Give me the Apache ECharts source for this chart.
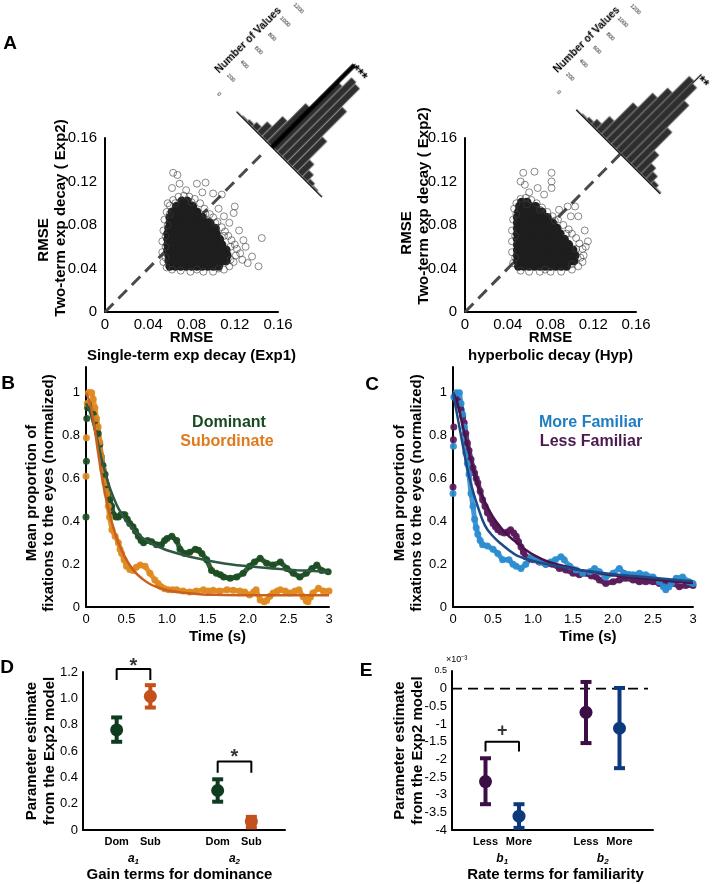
<!DOCTYPE html>
<html>
<head>
<meta charset="utf-8">
<script src="https://cdn.jsdelivr.net/npm/echarts@6.0.0/dist/echarts.min.js"></script>
<style>
html,body{margin:0;padding:0;background:#ffffff;width:716px;height:884px;overflow:hidden;}
#main{position:absolute;left:0;top:0;width:716px;height:884px;}
.hist{position:absolute;transform:rotate(45deg);transform-origin:50% 50%;}
</style>
</head>
<body>
<div id="main"></div>
<div id="histL" class="hist"></div>
<div id="histR" class="hist"></div>
<script>
const FONT = '"Liberation Sans", Arial, Helvetica, sans-serif';

// ================= Panel A : scatter clouds (RMSE Exp1 / Hyp vs Exp2) =================
// dense core of the clouds, rows: [y, [x values]]
const exp1CoreRows = [
  [0.042, [0.060,0.065,0.070,0.075,0.080,0.085,0.090,0.095,0.100,0.105]],
  [0.047, [0.059,0.064,0.069,0.074,0.079,0.084,0.089,0.094,0.099,0.104,0.109,0.112]],
  [0.052, [0.059,0.064,0.069,0.074,0.079,0.084,0.089,0.094,0.099,0.104,0.109,0.113]],
  [0.057, [0.058,0.063,0.068,0.073,0.078,0.083,0.088,0.093,0.098,0.103,0.108,0.112]],
  [0.062, [0.058,0.063,0.068,0.073,0.078,0.083,0.088,0.093,0.098,0.103,0.108]],
  [0.067, [0.058,0.063,0.068,0.073,0.078,0.083,0.088,0.093,0.098,0.103,0.106]],
  [0.072, [0.058,0.063,0.068,0.073,0.078,0.083,0.088,0.093,0.098,0.103]],
  [0.077, [0.059,0.064,0.069,0.074,0.079,0.084,0.089,0.094,0.099,0.102]],
  [0.082, [0.060,0.065,0.070,0.075,0.080,0.085,0.090,0.095,0.097]],
  [0.087, [0.060,0.065,0.070,0.075,0.080,0.085,0.090]],
  [0.092, [0.062,0.067,0.072,0.077,0.082,0.085]],
  [0.097, [0.066,0.071,0.076,0.081]],
  [0.102, [0.071,0.076]]
];
const exp1Rim = [
  [0.054,0.046],[0.053,0.055],[0.053,0.065],[0.054,0.075],[0.055,0.085],[0.057,0.092],[0.060,0.098],
  [0.063,0.103],[0.068,0.106],[0.073,0.107],[0.078,0.106],[0.083,0.104],[0.088,0.100],[0.092,0.095],
  [0.097,0.090],[0.100,0.087],[0.104,0.083],[0.108,0.078],[0.111,0.074],[0.114,0.070],[0.117,0.066],
  [0.120,0.062],[0.122,0.058],[0.121,0.052],[0.119,0.046],[0.115,0.042],[0.110,0.039],[0.100,0.037],
  [0.091,0.037],[0.079,0.037],[0.070,0.038],[0.062,0.039],[0.057,0.041],
  [0.056,0.050],[0.056,0.060],[0.056,0.070],[0.058,0.080],[0.060,0.090],[0.065,0.100],[0.080,0.101],
  [0.093,0.090],[0.102,0.082],[0.110,0.070],[0.116,0.060],[0.116,0.048],[0.105,0.040],[0.085,0.039],
  [0.063,0.128],[0.067,0.126],[0.069,0.118],[0.062,0.114],[0.085,0.118],[0.093,0.119],[0.100,0.109],
  [0.108,0.108],[0.120,0.097],[0.119,0.091],[0.145,0.068],[0.142,0.042],[0.136,0.051],[0.128,0.066],
  [0.125,0.054],[0.130,0.060],[0.124,0.075],[0.115,0.082],[0.075,0.112],[0.090,0.110],[0.058,0.100],
  [0.105,0.095],[0.110,0.088],[0.132,0.045],[0.127,0.048]
];
const hypCoreRows = [
  [0.042, [0.050,0.055,0.060,0.065,0.070,0.075,0.080,0.085,0.090,0.095]],
  [0.047, [0.049,0.054,0.059,0.064,0.069,0.074,0.079,0.084,0.089,0.094,0.099,0.102]],
  [0.052, [0.049,0.054,0.059,0.064,0.069,0.074,0.079,0.084,0.089,0.094,0.099,0.103]],
  [0.057, [0.049,0.054,0.059,0.064,0.069,0.074,0.079,0.084,0.089,0.094,0.099,0.101]],
  [0.062, [0.049,0.054,0.059,0.064,0.069,0.074,0.079,0.084,0.089,0.094,0.097]],
  [0.067, [0.049,0.054,0.059,0.064,0.069,0.074,0.079,0.084,0.089,0.093]],
  [0.072, [0.049,0.054,0.059,0.064,0.069,0.074,0.079,0.084,0.089]],
  [0.077, [0.049,0.054,0.059,0.064,0.069,0.074,0.079,0.084,0.086]],
  [0.082, [0.049,0.054,0.059,0.064,0.069,0.074,0.079,0.082]],
  [0.087, [0.049,0.054,0.059,0.064,0.069,0.074,0.077]],
  [0.092, [0.050,0.055,0.060,0.065,0.070,0.072]],
  [0.097, [0.051,0.056,0.061,0.066]],
  [0.101, [0.053,0.058]]
];
const hypRim = [
  [0.045,0.045],[0.044,0.055],[0.044,0.065],[0.044,0.075],[0.045,0.085],[0.046,0.095],[0.048,0.100],
  [0.052,0.104],[0.057,0.105],[0.062,0.103],[0.067,0.100],[0.072,0.096],[0.077,0.092],[0.082,0.088],
  [0.087,0.085],[0.092,0.080],[0.097,0.076],[0.100,0.072],[0.104,0.068],[0.107,0.063],[0.110,0.058],
  [0.111,0.052],[0.110,0.046],[0.106,0.042],[0.100,0.039],[0.090,0.037],[0.080,0.037],[0.070,0.037],
  [0.060,0.037],[0.052,0.038],
  [0.047,0.050],[0.047,0.070],[0.048,0.090],[0.058,0.099],[0.070,0.094],[0.084,0.084],[0.095,0.072],
  [0.104,0.058],[0.100,0.044],[0.075,0.039],
  [0.052,0.120],[0.0545,0.128],[0.065,0.129],[0.081,0.128],[0.081,0.120],[0.081,0.114],[0.056,0.117],
  [0.068,0.114],[0.060,0.110],[0.103,0.097],[0.099,0.088],[0.106,0.088],[0.112,0.075],[0.115,0.065],
  [0.113,0.060],[0.108,0.050],[0.096,0.097],[0.074,0.108],[0.088,0.094]
];
const diagExp1 = [[0,0],[0.148,0.148]];
const diagHyp = [[0,0],[0.149,0.149]];

// histograms of RMSE differences (rotated 45 deg)
const histBinsL = [-0.0325,-0.0275,-0.0225,-0.0175,-0.0125,-0.0075,-0.0025,0.0025,0.0075,0.0125,0.0175,0.0225,0.0275,0.0325,0.0375,0.0425,0.0475];
const histCountsL = [8,18,35,70,150,300,560,950,1080,1060,800,440,180,100,45,20,8];
const histBinsR = [-0.0425,-0.0375,-0.0325,-0.0275,-0.0225,-0.0175,-0.0125,-0.0075,-0.0025,0.0025,0.0075,0.0125,0.0175,0.0225,0.0275,0.0325,0.0375];
const histCountsR = [8,18,40,85,200,480,700,850,1100,1070,880,550,280,160,110,50,15];
const histLineL = 1190, histLineR = 1205;
const histStarsL = '***', histStarsR = '**';

// ================= Panel B : dominance time course =================
const domDots = [[0,0.42],[0.005,0.68],[0.01,0.88],[0.02,0.93],[0.03,0.95],[0.05,0.93],[0.07,0.92],[0.09,0.90],[0.11,0.87],[0.13,0.84],[0.15,0.81],[0.17,0.76],[0.19,0.70],[0.21,0.66],[0.235,0.62],[0.255,0.57],[0.275,0.53],[0.295,0.50],[0.317,0.47],[0.34,0.43],[0.37,0.42],[0.40,0.42],[0.43,0.43],[0.46,0.43],[0.48,0.43],[0.51,0.41],[0.54,0.39],[0.58,0.375],[0.61,0.355],[0.646,0.33],[0.68,0.31],[0.71,0.30],[0.76,0.31],[0.81,0.305],[0.87,0.29],[0.93,0.29],[0.97,0.31],[1.0,0.32],[1.06,0.33],[1.12,0.31],[1.16,0.27],[1.22,0.25],[1.28,0.255],[1.35,0.27],[1.39,0.265],[1.43,0.25],[1.49,0.22],[1.55,0.17],[1.61,0.157],[1.66,0.15],[1.70,0.14],[1.78,0.134],[1.86,0.14],[1.94,0.157],[2.02,0.19],[2.08,0.21],[2.15,0.227],[2.23,0.204],[2.31,0.196],[2.40,0.21],[2.48,0.18],[2.56,0.157],[2.64,0.14],[2.72,0.157],[2.79,0.18],[2.85,0.196],[2.91,0.17],[2.99,0.165]];
const subDots = [[0,0.61],[0.005,0.79],[0.015,0.95],[0.03,1.0],[0.05,1.0],[0.07,1.0],[0.09,0.97],[0.11,0.93],[0.13,0.88],[0.15,0.84],[0.17,0.77],[0.19,0.70],[0.21,0.64],[0.235,0.58],[0.26,0.53],[0.275,0.47],[0.29,0.42],[0.32,0.36],[0.36,0.33],[0.40,0.30],[0.42,0.27],[0.44,0.25],[0.47,0.22],[0.50,0.19],[0.54,0.175],[0.58,0.17],[0.62,0.185],[0.67,0.196],[0.73,0.19],[0.79,0.157],[0.85,0.126],[0.89,0.11],[0.93,0.095],[0.97,0.085],[1.02,0.08],[1.07,0.08],[1.12,0.08],[1.2,0.075],[1.28,0.07],[1.36,0.075],[1.45,0.08],[1.51,0.075],[1.57,0.078],[1.65,0.075],[1.74,0.08],[1.82,0.078],[1.9,0.075],[1.96,0.07],[2.02,0.056],[2.07,0.07],[2.1,0.08],[2.15,0.033],[2.2,0.025],[2.23,0.03],[2.27,0.05],[2.31,0.065],[2.36,0.075],[2.4,0.08],[2.46,0.075],[2.52,0.065],[2.58,0.075],[2.63,0.08],[2.68,0.048],[2.72,0.028],[2.74,0.025],[2.77,0.045],[2.8,0.065],[2.87,0.087],[2.93,0.075],[3.0,0.075]];
const domFit = [[0,0.95],[0.05,0.91],[0.1,0.84],[0.15,0.76],[0.2,0.68],[0.25,0.61],[0.3,0.55],[0.4,0.46],[0.5,0.40],[0.6,0.355],[0.7,0.322],[0.8,0.298],[0.9,0.28],[1.0,0.265],[1.2,0.243],[1.4,0.225],[1.6,0.21],[1.8,0.198],[2.0,0.19],[2.2,0.183],[2.4,0.177],[2.6,0.172],[2.8,0.168],[3.0,0.165]];
const subFit = [[0,1.0],[0.05,0.95],[0.1,0.85],[0.15,0.72],[0.2,0.6],[0.25,0.5],[0.3,0.42],[0.35,0.355],[0.4,0.3],[0.5,0.22],[0.6,0.165],[0.7,0.13],[0.8,0.105],[0.9,0.09],[1.0,0.078],[1.2,0.066],[1.4,0.06],[1.6,0.057],[2.0,0.055],[2.5,0.055],[3.0,0.055]];

// ================= Panel C : familiarity time course =================
const moreDots = [[0,0.53],[0.005,0.75],[0.01,0.98],[0.04,1.0],[0.08,1.0],[0.1,0.95],[0.12,0.9],[0.14,0.84],[0.16,0.72],[0.18,0.67],[0.2,0.62],[0.225,0.53],[0.25,0.47],[0.27,0.41],[0.29,0.37],[0.31,0.34],[0.34,0.31],[0.37,0.29],[0.43,0.285],[0.5,0.27],[0.56,0.25],[0.62,0.22],[0.7,0.22],[0.75,0.2],[0.79,0.19],[0.85,0.18],[0.91,0.2],[0.97,0.23],[1.02,0.22],[1.09,0.21],[1.16,0.2],[1.22,0.21],[1.28,0.22],[1.35,0.235],[1.39,0.22],[1.46,0.19],[1.54,0.173],[1.62,0.157],[1.71,0.165],[1.77,0.18],[1.83,0.165],[1.91,0.14],[2.0,0.157],[2.08,0.18],[2.14,0.157],[2.2,0.152],[2.25,0.15],[2.33,0.157],[2.41,0.15],[2.5,0.14],[2.58,0.118],[2.63,0.095],[2.66,0.08],[2.7,0.095],[2.73,0.11],[2.79,0.134],[2.87,0.14],[2.95,0.118],[3.0,0.11]];
const lessDots = [[0,0.56],[0.005,0.78],[0.01,0.84],[0.02,0.98],[0.04,0.97],[0.06,0.96],[0.08,0.94],[0.1,0.92],[0.12,0.89],[0.14,0.86],[0.16,0.81],[0.18,0.765],[0.2,0.73],[0.225,0.69],[0.25,0.65],[0.27,0.625],[0.29,0.6],[0.31,0.58],[0.34,0.54],[0.37,0.5],[0.4,0.47],[0.43,0.44],[0.47,0.41],[0.5,0.39],[0.53,0.375],[0.56,0.36],[0.6,0.35],[0.64,0.345],[0.68,0.35],[0.72,0.36],[0.76,0.345],[0.79,0.33],[0.82,0.305],[0.85,0.28],[0.88,0.255],[0.91,0.235],[0.96,0.225],[1.0,0.22],[1.08,0.21],[1.16,0.2],[1.24,0.2],[1.33,0.18],[1.41,0.173],[1.5,0.157],[1.58,0.15],[1.66,0.157],[1.73,0.145],[1.79,0.14],[1.83,0.126],[1.91,0.11],[2.0,0.118],[2.08,0.126],[2.16,0.134],[2.25,0.126],[2.33,0.118],[2.41,0.118],[2.5,0.118],[2.58,0.11],[2.66,0.115],[2.75,0.11],[2.83,0.095],[2.91,0.1],[3.0,0.1]];
const moreFit = [[0,1.0],[0.05,0.9],[0.1,0.8],[0.15,0.7],[0.2,0.61],[0.25,0.54],[0.3,0.48],[0.4,0.38],[0.5,0.33],[0.6,0.295],[0.7,0.265],[0.8,0.24],[1.0,0.215],[1.2,0.198],[1.4,0.185],[1.6,0.172],[1.8,0.162],[2.0,0.153],[2.2,0.146],[2.4,0.14],[2.6,0.133],[2.8,0.126],[3.0,0.12]];
const lessFit = [[0,1.0],[0.05,0.96],[0.1,0.88],[0.15,0.8],[0.2,0.72],[0.25,0.65],[0.3,0.58],[0.35,0.53],[0.4,0.49],[0.5,0.42],[0.6,0.37],[0.7,0.33],[0.8,0.3],[0.9,0.27],[1.0,0.245],[1.2,0.21],[1.4,0.19],[1.6,0.172],[1.8,0.16],[2.0,0.148],[2.2,0.14],[2.4,0.132],[2.6,0.125],[2.8,0.118],[3.0,0.112]];

// ================= Panel D : gain terms =================
const dGroups = ['a1','a2'];
const dLevels = ['Dom','Sub'];
const dDomMean = [0.76, 0.30], dDomLo = [0.67, 0.215], dDomHi = [0.855, 0.385];
const dSubMean = [1.015, 0.065], dSubLo = [0.93, 0.02], dSubHi = [1.10, 0.10];

// ================= Panel E : rate terms (x10^-3) =================
const eGroups = ['b1','b2'];
const eLevels = ['Less','More'];
const eLessMean = [-2.63, -0.67], eLessLo = [-3.27, -1.54], eLessHi = [-1.97, 0.19];
const eMoreMean = [-3.61, -1.12], eMoreLo = [-3.94, -2.25], eMoreHi = [-3.27, 0.02];

// ---------------- colours ----------------
const C_DOM = '#1c4d22', C_DOMFIT = '#2e5842', C_SUB = '#e08a1f', C_SUBFIT = '#c8601f';
const C_MORE = '#2c8dd1', C_MOREFIT = '#1d4a86', C_LESS = '#5a1b5c', C_LESSFIT = '#471447';
const C_D_DOM = '#0f3b1f', C_D_SUB = '#c4501b', C_E_LESS = '#3b0f45', C_E_MORE = '#0c3a7c';

function rowsToPoints(rows){ const out=[]; rows.forEach(r=>r[1].forEach(x=>out.push([x,r[0]]))); return out; }
// categorical position: group g, level k -> 1 + 3g + k
const catPos = (g,k) => 1 + 3*g + k;

const axLine = {show:true, onZero:false, lineStyle:{color:'#000', width:2}};
const noTick = {show:false};
const noSplit = {show:false};
const lbl = (size, margin, fmt, extra) => Object.assign({color:'#000', fontFamily:FONT, fontSize:size, margin:margin, formatter:fmt}, extra||{});
const nameStyle = (extra) => Object.assign({color:'#000', fontFamily:FONT, fontSize:15, fontWeight:'bold'}, extra||{});

const fmtA = v => v===0 ? '0' : v.toFixed(2);
const fmtT = v => (v===0||v===3) ? String(v) : v.toFixed(1);
const fmtP = v => v===0 ? '0' : (Math.abs(v-1)<1e-9 ? '1' : v.toFixed(1));
const fmtD = v => v===0 ? '0' : v.toFixed(1);
const fmtE = v => Math.abs(v-0.5)<1e-9 ? '{s|0.5}' : (Math.abs(v)<1e-9 ? '0' : String(Math.round(v*10)/10));
const catFmt = (levels) => v => { for (let g=0; g<2; g++) for (let k=0;k<2;k++) if (Math.abs(v-catPos(g,k))<1e-9) return levels[k]; return ''; };
const grpFmt = (groups) => v => { for (let g=0; g<2; g++) if (Math.abs(v-(1.5+3*g))<1e-9) return '{i|' + groups[g][0] + '}{s|' + groups[g].slice(1) + '}'; return ''; };
const grpRich = {i:{fontFamily:FONT, fontSize:12, fontWeight:'bold', fontStyle:'italic', color:'#000', lineHeight:14},
                 s:{fontFamily:FONT, fontSize:8, fontWeight:'bold', fontStyle:'italic', color:'#000', lineHeight:14, verticalAlign:'bottom'}};

function errBar(width, cap){
  return function(params, api){
    const x = api.value(0);
    const lo = api.coord([x, api.value(1)]);
    const hi = api.coord([x, api.value(2)]);
    const st = {stroke: api.visual('color'), lineWidth: width};
    return {type:'group', children:[
      {type:'line', shape:{x1:lo[0],y1:lo[1],x2:hi[0],y2:hi[1]}, style:st},
      {type:'line', shape:{x1:lo[0]-cap,y1:lo[1],x2:lo[0]+cap,y2:lo[1]}, style:st},
      {type:'line', shape:{x1:hi[0]-cap,y1:hi[1],x2:hi[0]+cap,y2:hi[1]}, style:st}
    ]};
  };
}

const grids = [
  {left:105, top:138, width:173, height:174},  // A left
  {left:465, top:138, width:171, height:174},  // A right
  {left:86,  top:367, width:243, height:240},  // B
  {left:453, top:367, width:240, height:240},  // C
  {left:83,  top:672, width:202, height:158},  // D
  {left:452, top:671, width:201, height:159}   // E
];

const xAxes = [
  {gridIndex:0, type:'value', min:0, max:0.16, interval:0.04, axisLine:axLine, axisTick:noTick, splitLine:noSplit,
   axisLabel:lbl(15,5,fmtA), name:'RMSE\nSingle-term exp decay (Exp1)', nameLocation:'middle', nameGap:17,
   nameTextStyle:nameStyle({lineHeight:18})},
  {gridIndex:1, type:'value', min:0, max:0.16, interval:0.04, axisLine:axLine, axisTick:noTick, splitLine:noSplit,
   axisLabel:lbl(15,5,fmtA), name:'RMSE\nhyperbolic decay (Hyp)', nameLocation:'middle', nameGap:17,
   nameTextStyle:nameStyle({lineHeight:18})},
  {gridIndex:2, type:'value', min:0, max:3, interval:0.5, axisLine:axLine, axisTick:noTick, splitLine:noSplit,
   axisLabel:lbl(13,6,fmtT), name:'Time (s)', nameLocation:'middle', nameGap:22,
   nameTextStyle:nameStyle({padding:[0,0,0,20]})},
  {gridIndex:3, type:'value', min:0, max:3, interval:0.5, axisLine:axLine, axisTick:noTick, splitLine:noSplit,
   axisLabel:lbl(13,6,fmtT), name:'Time (s)', nameLocation:'middle', nameGap:22,
   nameTextStyle:nameStyle({padding:[0,0,0,30]})},
  {gridIndex:4, type:'value', min:0, max:6, interval:1, position:'bottom', axisLine:axLine, axisTick:noTick, splitLine:noSplit,
   axisLabel:lbl(11,6,catFmt(dLevels),{fontWeight:'bold'}), name:'Gain terms for dominance', nameLocation:'middle', nameGap:37,
   nameTextStyle:nameStyle({padding:[0,9,0,0]})},
  {gridIndex:4, type:'value', min:0, max:6, interval:1.5, position:'bottom', axisLine:{show:false}, axisTick:noTick, splitLine:noSplit,
   axisLabel:{margin:22, formatter:grpFmt(dGroups), rich:grpRich}},
  {gridIndex:5, type:'value', min:0, max:6, interval:1, position:'bottom', axisLine:axLine, axisTick:noTick, splitLine:noSplit,
   axisLabel:lbl(11,6,catFmt(eLevels),{fontWeight:'bold'}), name:'Rate terms for familiarity', nameLocation:'middle', nameGap:37,
   nameTextStyle:nameStyle({padding:[0,0,0,6]})},
  {gridIndex:5, type:'value', min:0, max:6, interval:1.5, position:'bottom', axisLine:{show:false}, axisTick:noTick, splitLine:noSplit,
   axisLabel:{margin:22, formatter:grpFmt(eGroups), rich:grpRich}}
];

const richY = (padTop, padBottom) => ({
  r:{fontFamily:FONT, fontSize:15, fontWeight:'bold', color:'#000', lineHeight:17, padding:padTop},
  l:{fontFamily:FONT, fontSize:15, fontWeight:'bold', color:'#000', lineHeight:17, padding:padBottom}
});

const yAxes = [
  {gridIndex:0, type:'value', min:0, max:0.16, interval:0.04, axisLine:axLine, axisTick:noTick, splitLine:noSplit,
   axisLabel:lbl(15,8,fmtA), name:'{r|RMSE}\n{l|Two-term exp decay ( Exp2)}', nameLocation:'middle', nameGap:36,
   nameTextStyle:{rich:richY([0,30,0,0],[0,0,0,14])}},
  {gridIndex:1, type:'value', min:0, max:0.16, interval:0.04, axisLine:axLine, axisTick:noTick, splitLine:noSplit,
   axisLabel:lbl(15,8,fmtA), name:'{r|RMSE}\n{l|Two-term exp decay ( Exp2)}', nameLocation:'middle', nameGap:33,
   nameTextStyle:{rich:richY([0,16,0,0],[0,0,0,38])}},
  {gridIndex:2, type:'value', min:0, max:1.12, interval:0.2, axisLine:axLine, axisTick:noTick, splitLine:noSplit,
   axisLabel:lbl(13,6,fmtP,{showMaxLabel:false}), name:'{r|Mean proportion of}\n{l|fixations to the eyes (normalized)}',
   nameLocation:'middle', nameGap:29, nameTextStyle:{rich:richY([0,12,0,0],[0,12,0,0])}},
  {gridIndex:3, type:'value', min:0, max:1.12, interval:0.2, axisLine:axLine, axisTick:noTick, splitLine:noSplit,
   axisLabel:lbl(13,6,fmtP,{showMaxLabel:false}), name:'{r|Mean proportion of}\n{l|fixations to the eyes (normalized)}',
   nameLocation:'middle', nameGap:28, nameTextStyle:{rich:richY([0,12,0,0],[0,12,0,0])}},
  {gridIndex:4, type:'value', min:0, max:1.2, interval:0.2, axisLine:axLine, axisTick:noTick, splitLine:noSplit,
   axisLabel:lbl(13,5,fmtD), name:'Parameter estimate\nfrom the Exp2 model', nameLocation:'middle', nameGap:24,
   nameTextStyle:nameStyle({lineHeight:18})},
  {gridIndex:5, type:'value', min:-4, max:0.5, interval:0.5, axisLine:axLine, axisTick:noTick, splitLine:noSplit,
   axisLabel:lbl(13,5,fmtE,{rich:{s:{fontFamily:FONT, fontSize:9, color:'#000'}}}), name:'Parameter estimate\nfrom the Exp2 model',
   nameLocation:'middle', nameGap:25, nameTextStyle:nameStyle({lineHeight:18})}
];
xAxes.concat(yAxes).forEach(a => { a.nameMoveOverlap = false; });

const series = [];
// ---- A scatter panels ----
function addCloud(idx, coreRows, rim, diag){
  series.push({type:'line', xAxisIndex:idx, yAxisIndex:idx, data:diag, symbol:'none', silent:true, z:1,
               lineStyle:{color:'#4a4a4a', width:3, type:[12,7]}});
  series.push({type:'scatter', xAxisIndex:idx, yAxisIndex:idx, data:rowsToPoints(coreRows), symbol:'circle', symbolSize:9,
               itemStyle:{color:'#1e1e1e', opacity:1}, silent:true, z:3});
  series.push({type:'scatter', xAxisIndex:idx, yAxisIndex:idx, data:rim, symbol:'circle', symbolSize:7,
               itemStyle:{color:'rgba(0,0,0,0)', borderColor:'rgba(60,60,60,0.6)', borderWidth:1, opacity:1}, silent:true, z:4});
}
addCloud(0, exp1CoreRows, exp1Rim, diagExp1);
addCloud(1, hypCoreRows, hypRim, diagHyp);

// ---- B / C time courses ----
function addCourse(idx, dots, fit, dotColor, fitColor){
  series.push({type:'line', xAxisIndex:idx, yAxisIndex:idx, data:dots.filter(d=>d[0]>=0.02), symbol:'none', silent:true, z:2,
               lineStyle:{color:dotColor, width:5, opacity:0.9, cap:'round', join:'round'}});
  series.push({type:'scatter', xAxisIndex:idx, yAxisIndex:idx, data:dots, symbolSize:7, itemStyle:{color:dotColor, opacity:0.92}, silent:true, z:3});
  series.push({type:'line', xAxisIndex:idx, yAxisIndex:idx, data:fit, symbol:'none', smooth:0.4, silent:true, z:5,
               lineStyle:{color:fitColor, width:2.5}});
}
addCourse(2, domDots, domFit, C_DOM, C_DOMFIT);
addCourse(2, subDots, subFit, C_SUB, C_SUBFIT);
addCourse(3, lessDots, lessFit, C_LESS, C_LESSFIT);
addCourse(3, moreDots, moreFit, C_MORE, C_MOREFIT);

// ---- D / E parameter estimates ----
function addEstimates(xIdx, yIdx, level, mean, lo, hi, color){
  const pts = mean.map((m,g)=>[catPos(g,level), m]);
  const bars = mean.map((m,g)=>[catPos(g,level), lo[g], hi[g]]);
  series.push({type:'custom', xAxisIndex:xIdx, yAxisIndex:yIdx, renderItem:errBar(4,5.5), itemStyle:{color:color},
               data:bars, encode:{x:0, y:[1,2]}, silent:true, z:4, clip:false});
  series.push({type:'scatter', xAxisIndex:xIdx, yAxisIndex:yIdx, data:pts, symbolSize:13, itemStyle:{color:color, opacity:1}, silent:true, z:5});
}
function addBracket(xIdx, yIdx, g, yTop, yEnd, mark, labelY, fs){
  const a = catPos(g,0), b = catPos(g,1);
  series.push({type:'line', xAxisIndex:xIdx, yAxisIndex:yIdx, data:[[a,yEnd],[a,yTop],[b,yTop],[b,yEnd]], symbol:'none',
               clip:false, silent:true, lineStyle:{color:'#000', width:2}, z:3});
  series.push({type:'scatter', xAxisIndex:xIdx, yAxisIndex:yIdx, data:[[(a+b)/2, labelY]], symbolSize:1, clip:false, silent:true,
               itemStyle:{color:'rgba(0,0,0,0)'},
               label:{show:true, position:'inside', formatter:mark, fontFamily:FONT, fontSize:fs, fontWeight:'bold', color:'#000'}});
}
addEstimates(4, 4, 0, dDomMean, dDomLo, dDomHi, C_D_DOM);
addEstimates(4, 4, 1, dSubMean, dSubLo, dSubHi, C_D_SUB);
addBracket(4, 4, 0, 1.222, 1.14, '*', 1.245, 20);
addBracket(4, 4, 1, 0.52, 0.435, '*', 0.55, 20);

series.push({type:'line', xAxisIndex:6, yAxisIndex:5, data:[[0,0],[5.85,0]], symbol:'none', silent:true, z:2,
             lineStyle:{color:'#000', width:1.8, type:[10,6]}});
addEstimates(6, 5, 0, eLessMean, eLessLo, eLessHi, C_E_LESS);
addEstimates(6, 5, 1, eMoreMean, eMoreLo, eMoreHi, C_E_MORE);
addBracket(6, 5, 0, -1.5, -1.78, '+', -1.2, 18);

const bold = (s) => 'bold ' + s + 'px ' + FONT;
const graphic = [
  {type:'text', x:10, y:44, style:{text:'A', font:bold(19), fill:'#000', align:'center', verticalAlign:'middle'}},
  {type:'text', x:8, y:384, style:{text:'B', font:bold(19), fill:'#000', align:'center', verticalAlign:'middle'}},
  {type:'text', x:372, y:385, style:{text:'C', font:bold(19), fill:'#000', align:'center', verticalAlign:'middle'}},
  {type:'text', x:7, y:668, style:{text:'D', font:bold(19), fill:'#000', align:'center', verticalAlign:'middle'}},
  {type:'text', x:366, y:671, style:{text:'E', font:bold(19), fill:'#000', align:'center', verticalAlign:'middle'}},
  {type:'text', x:229, y:423, style:{text:'Dominant', font:bold(16), fill:'#174a21', align:'center', verticalAlign:'middle'}},
  {type:'text', x:227, y:442, style:{text:'Subordinate', font:bold(16), fill:'#e07a1f', align:'center', verticalAlign:'middle'}},
  {type:'text', x:591, y:423, style:{text:'More Familiar', font:bold(16), fill:'#1f7dc2', align:'center', verticalAlign:'middle'}},
  {type:'text', x:591, y:442, style:{text:'Less Familiar', font:bold(16), fill:'#4b1a4f', align:'center', verticalAlign:'middle'}},
  {type:'text', x:446, y:660, style:{text:'×10⁻³', font:'9px ' + FONT, fill:'#000', align:'left', verticalAlign:'middle'}}
];

const main = echarts.init(document.getElementById('main'), null, {renderer:'canvas'});
main.setOption({animation:false, backgroundColor:'#ffffff', grid:grids, xAxis:xAxes, yAxis:yAxes, series:series, graphic:graphic});

// ---------------- rotated histograms ----------------
const HW = 200, HH = 170, HGL = 45, HGT = 35;
function placeHist(el, gh, p0){
  el.style.width = HW + 'px'; el.style.height = HH + 'px';
  const dx = HGL - HW/2, dy = HGT + gh - HH/2;
  const rx = (dx - dy)/Math.SQRT2, ry = (dx + dy)/Math.SQRT2;
  el.style.left = (p0[0] - rx - HW/2) + 'px';
  el.style.top = (p0[1] - ry - HH/2) + 'px';
}
function histOption(bins, counts, xr, gw, gh, lineTop, stars, starY, firstEdge){
  return {
    animation:false,
    grid:{left:HGL, top:HGT, width:gw, height:gh},
    xAxis:{type:'value', min:xr[0], max:xr[1], show:false},
    yAxis:{type:'value', min:0, max:1200, interval:200, axisLine:{show:true, lineStyle:{color:'#000', width:1.2}}, axisTick:{show:false},
           splitLine:{show:false}, axisLabel:{fontSize:5.5, margin:2, color:'#000', fontFamily:FONT, formatter:v=>String(v)},
           name:'Number of Values', nameLocation:'middle', nameGap:15, nameMoveOverlap:false,
           nameTextStyle:{fontSize:10.5, fontWeight:'bold', color:'#000', fontFamily:FONT}},
    series:[{type:'bar', data:bins.map((b,i)=>[b,counts[i]]), barWidth:7.1, silent:true,
             itemStyle:{color:'#2e2e2e', borderColor:'#8a8a8a', borderWidth:0.4, opacity:1},
             markLine:{symbol:'none', silent:true, label:{show:false},
               data:[
                 [{coord:[0,0], lineStyle:{color:'#000', width:4.5, type:'solid'}}, {coord:[0,lineTop]}],
                 [{coord:[firstEdge,0], lineStyle:{color:'#000', width:1, type:'solid'}}, {coord:[xr[1],0]}]
               ]},
             markPoint:{symbol:'circle', symbolSize:1, silent:true, itemStyle:{color:'rgba(0,0,0,0)'},
               label:{show:true, position:'right', distance:1, formatter:stars, fontFamily:FONT, fontSize:14, fontWeight:'bold', color:'#000'},
               data:[{coord:[0,starY]}]}
            }]
  };
}
const elL = document.getElementById('histL'), elR = document.getElementById('histR');
placeHist(elL, 117, [221.7, 96]);
placeHist(elR, 113, [561.7, 94.3]);
echarts.init(elL).setOption(histOption(histBinsL, histCountsL, [-0.05,0.05], 142, 117, histLineL, histStarsL, 1160, -0.035));
echarts.init(elR).setOption(histOption(histBinsR, histCountsR, [-0.06,0.04], 140, 113, histLineR, histStarsR, 1150, -0.045));
</script>
</body>
</html>
